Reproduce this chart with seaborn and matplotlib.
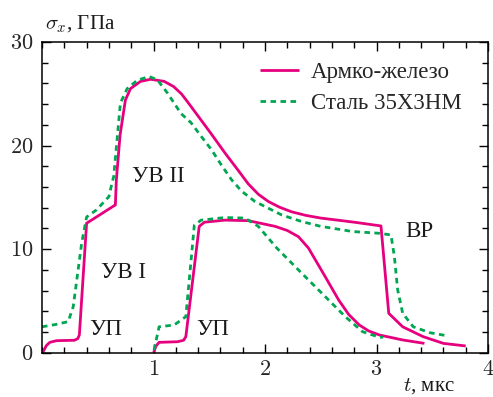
import matplotlib
matplotlib.use("Agg")
import matplotlib.pyplot as plt
from matplotlib.ticker import MultipleLocator, FixedLocator
import seaborn as sns
import pandas as pd

# Армко-железо: first wave (from t=0) and second wave (from t≈1)
armco_t1 = [0.0, 0.01, 0.04, 0.07, 0.13, 0.29, 0.32, 0.335, 0.40, 0.658, 0.667,
            0.70, 0.748, 0.794, 0.884, 0.975, 1.095, 1.18, 1.25, 1.30, 1.40,
            1.52, 1.64, 1.76, 1.85, 1.94, 2.03, 2.13, 2.24, 2.37, 2.5, 2.8,
            3.04, 3.11, 3.235, 3.418, 3.6, 3.80]
armco_s1 = [0.0, 0.1, 0.7, 1.0, 1.16, 1.2, 1.35, 1.7, 12.5, 14.27, 16.7,
            21.0, 24.4, 25.5, 26.2, 26.4, 26.2, 25.7, 25.0, 24.3, 22.85,
            21.1, 19.3, 17.6, 16.3, 15.3, 14.6, 14.05, 13.6, 13.25, 13.0, 12.6,
            12.24, 3.8, 2.5, 1.55, 0.9, 0.65]
armco_t2 = [1.0, 1.005, 1.02, 1.05, 1.216, 1.27, 1.29, 1.41, 1.457, 1.64, 1.85,
            2.09, 2.20, 2.30, 2.39, 2.54, 2.66, 2.75, 2.845, 2.93, 3.026, 3.235, 3.43]
armco_s2 = [0.0, 0.1, 0.6, 1.0, 1.06, 1.2, 1.55, 12.2, 12.6, 12.8, 12.75,
            12.2, 11.8, 11.2, 10.1, 7.34, 5.1, 3.7, 2.68, 2.1, 1.71, 1.23, 0.9]

# Сталь 35Х3НМ
steel_t1 = [0.0, 0.13, 0.235, 0.28, 0.356, 0.40, 0.49, 0.6, 0.628, 0.643, 0.703,
            0.764, 0.854, 0.96, 1.035, 1.126, 1.246, 1.337, 1.427, 1.52, 1.61,
            1.70, 1.79, 1.91, 2.03, 2.15, 2.33, 2.5, 2.785, 3.026, 3.13, 3.16,
            3.19, 3.235, 3.33, 3.48, 3.63]
steel_s1 = [2.5, 2.74, 3.0, 4.44, 10.6, 13.1, 13.8, 15.07, 16.4, 17.0, 24.1,
            25.5, 26.3, 26.67, 26.35, 25.06, 23.1, 22.2, 20.9, 19.6, 18.1,
            16.7, 15.6, 14.6, 13.95, 13.3, 12.66, 12.2, 11.7, 11.53, 11.37, 9.3,
            6.06, 3.8, 2.5, 1.93, 1.64]
steel_t2 = [1.005, 1.05, 1.186, 1.29, 1.366, 1.427, 1.64, 1.82, 1.94, 2.106,
            2.33, 2.51, 2.72, 2.875, 3.026, 3.06]
steel_s2 = [0.26, 2.5, 2.68, 3.48, 12.3, 12.8, 13.05, 13.0, 12.2, 10.1,
            7.67, 5.74, 3.48, 2.03, 1.49, 1.5]

series_names = ["Армко-железо", "Сталь 35Х3НМ"]
x_tick_labels = ["1", "2", "3", "4"]
y_tick_labels = ["0", "10", "20", "30"]

# annotations: (text, t, sigma)
annotations = [("УВ II", 1.04, 17.0), ("УВ I", 0.73, 7.7),
               ("УП", 0.57, 2.2), ("УП", 1.53, 2.2), ("ВР", 3.38, 11.7)]

sns.set_theme(style="white")
plt.rcParams["font.family"] = ["Liberation Serif", "DejaVu Serif"]
plt.rcParams["mathtext.fontset"] = "cm"

MAGENTA = "#E6007E"
GREEN = "#00A651"
DOTTED = (0, (2.0, 1.6))

fig = plt.figure(figsize=(4.93, 3.97), dpi=100)
ax = fig.add_axes([42 / 493, 1 - 352.7 / 397, 446 / 493, 310.7 / 397])

curves = [
    (armco_t1, armco_s1, series_names[0], MAGENTA, "-"),
    (armco_t2, armco_s2, None, MAGENTA, "-"),
    (steel_t1, steel_s1, series_names[1], GREEN, DOTTED),
    (steel_t2, steel_s2, None, GREEN, DOTTED),
]
for t, s, name, col, ls in curves:
    d = pd.DataFrame({"t": t, "s": s})
    n_before = len(ax.lines)
    sns.lineplot(data=d, x="t", y="s", sort=False, estimator=None, color=col,
                 lw=2.0, ax=ax, label=name if name else "_nolegend_")
    for ln in ax.lines[n_before:]:
        ln.set_linestyle(ls)
        ln.set_solid_capstyle("butt")
        ln.set_dash_capstyle("butt")
        ln.set_solid_joinstyle("round")

ax.set_xlim(0, 4)
ax.set_ylim(0, 30)
ax.xaxis.set_major_locator(FixedLocator([1, 2, 3, 4]))
ax.xaxis.set_minor_locator(MultipleLocator(0.2))
ax.yaxis.set_major_locator(FixedLocator([0, 10, 20, 30]))
ax.yaxis.set_minor_locator(MultipleLocator(2))
ax.set_xticklabels([f"${v}$" for v in x_tick_labels])
ax.set_yticklabels([f"${v}$" for v in y_tick_labels])
ax.tick_params(which="both", direction="in", top=True, right=True,
               bottom=True, left=True, color="black", width=1.0)
ax.tick_params(which="major", length=6.5, labelsize=16, pad=6)
ax.tick_params(which="minor", length=4.5)
ax.set_xlabel("")
ax.set_ylabel("")
for sp in ax.spines.values():
    sp.set_color("black")
    sp.set_linewidth(1.1)

for txt, tx, sy in annotations:
    ax.text(tx, sy, txt, ha="center", va="center", fontsize=16.5, color="#1a1a1a")

fig.text(45 / 493, 1 - 24 / 397, r"$\sigma_x$, ГПа", ha="left", va="center",
         fontsize=15, color="#1a1a1a")
fig.text(403 / 493, 1 - 386 / 397, r"$t$, мкс", ha="left", va="center",
         fontsize=15, color="#1a1a1a")

handles, labels = ax.get_legend_handles_labels()
leg = ax.legend(handles, labels, loc="upper left", bbox_to_anchor=(0.489, 0.935),
                frameon=False, fontsize=16.5, handlelength=1.7, handletextpad=0.5,
                borderpad=0, borderaxespad=0, labelspacing=0.42)
for h, col, ls in zip(leg.get_lines(), [MAGENTA, GREEN], ["-", DOTTED]):
    h.set_linewidth(2.0)
    h.set_color(col)
    h.set_linestyle(ls)

fig.savefig("out.png", dpi=100)
